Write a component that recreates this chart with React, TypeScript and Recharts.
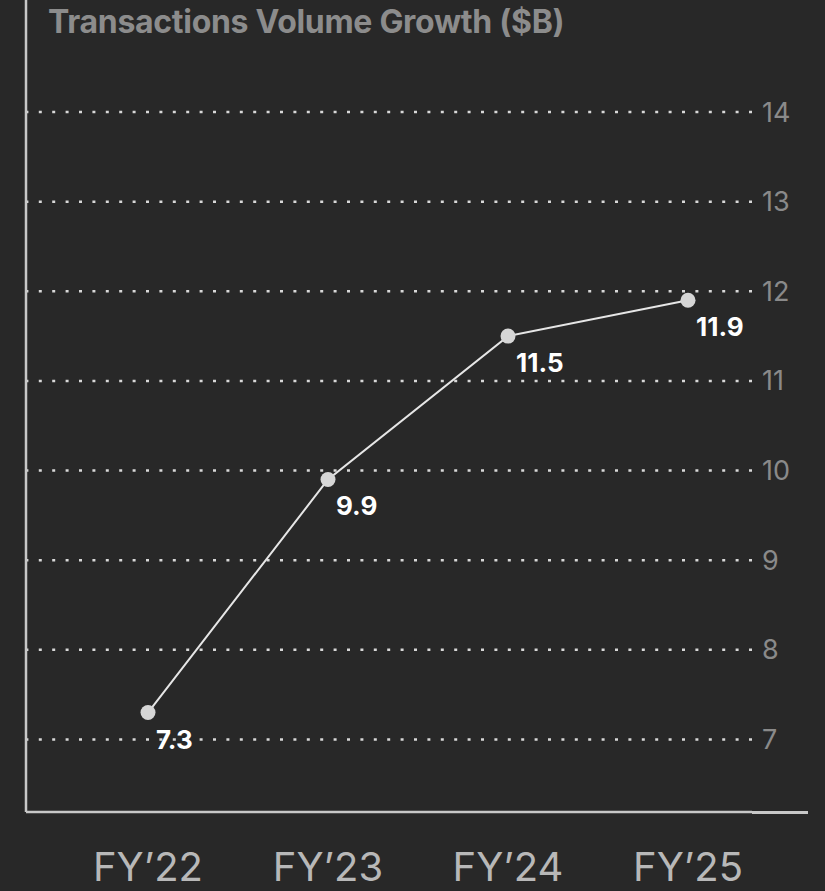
import React from "react";
import { LineChart, Line, XAxis, YAxis, ReferenceLine, LabelList } from "recharts";

const years = ["FY\u201922", "FY\u201923", "FY\u201924", "FY\u201925"];
const volumes = [7.3, 9.9, 11.5, 11.9];
const yTicks = [7, 8, 9, 10, 11, 12, 13, 14];
const title = "Transactions Volume Growth ($B)";

const data = years.map((year, i) => ({ year, volume: volumes[i] }));

const FONT = "Inter, 'Noto Sans', sans-serif";

const ValueLabel = (props: any) => {
  const { x, y, value } = props;
  return (
    <text
      x={x + 8}
      y={y + 36}
      fill="#ffffff"
      fontFamily={FONT}
      fontWeight={700}
      fontSize={26}
      textAnchor="start"
    >
      {value}
    </text>
  );
};

export default function App() {
  return (
    <div
      style={{
        position: "absolute",
        left: 0,
        top: 0,
        width: 825,
        height: 891,
        background: "#282828",
        overflow: "hidden",
      }}
    >
      <LineChart
        width={825}
        height={891}
        data={data}
        margin={{ top: 0, right: 0, bottom: 0, left: 25 }}
      >
        {yTicks.map((t) => (
          <ReferenceLine
            key={t}
            yAxisId="right"
            y={t}
            stroke="#d8d8d8"
            strokeWidth={2.5}
            strokeDasharray="3 10.4"
          />
        ))}
        <XAxis
          dataKey="year"
          type="category"
          padding={{ left: 122, right: 64 }}
          axisLine={{ stroke: "#c8c8c8", strokeWidth: 2.5 }}
          tickLine={false}
          tickMargin={35}
          height={79}
          tick={{ fill: "#b8b8b8", fontSize: 40, fontFamily: FONT, fontWeight: 400 }}
          interval={0}
        />
        <YAxis
          yAxisId="left"
          orientation="left"
          width={1}
          domain={[6.19, 15.25]}
          ticks={yTicks}
          tick={false}
          tickLine={false}
          axisLine={{ stroke: "#c8c8c8", strokeWidth: 2.5 }}
        />
        <YAxis
          yAxisId="right"
          orientation="right"
          width={73}
          domain={[6.19, 15.25]}
          ticks={yTicks}
          axisLine={false}
          tickLine={false}
          tickMargin={4}
          tick={{ fill: "#8a8a8a", fontSize: 27, fontFamily: FONT, fontWeight: 400 }}
        />
        <Line
          yAxisId="right"
          dataKey="volume"
          stroke="#e6e6e6"
          strokeWidth={2}
          dot={{ r: 7.5, fill: "#d6d6d6", stroke: "none" }}
          activeDot={false}
          isAnimationActive={false}
        >
          <LabelList dataKey="volume" content={<ValueLabel />} />
        </Line>
      </LineChart>
      <div
        style={{
          position: "absolute",
          left: 752,
          top: 811,
          width: 56,
          height: 2.5,
          background: "#c8c8c8",
        }}
      />
      <div
        style={{
          position: "absolute",
          left: 48,
          top: 2,
          fontFamily: FONT,
          fontWeight: 700,
          fontSize: 32,
          lineHeight: "40px",
          color: "#8c8c8c",
          whiteSpace: "nowrap",
          letterSpacing: -0.3,
        }}
      >
        {title}
      </div>
    </div>
  );
}
